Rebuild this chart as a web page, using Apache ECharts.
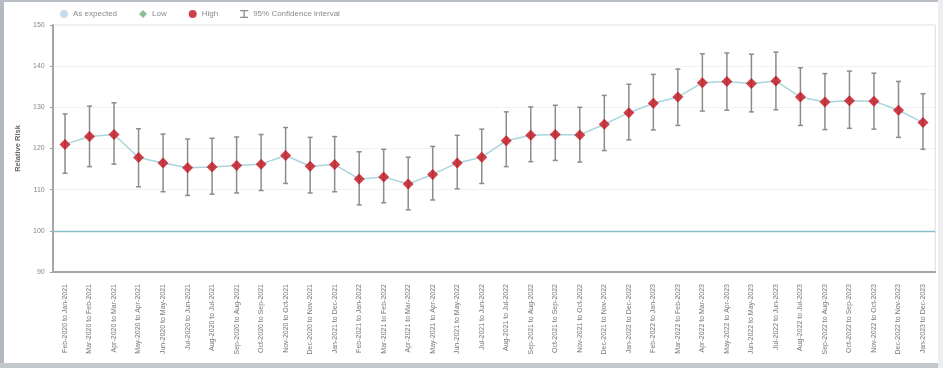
<!DOCTYPE html>
<html>
<head>
<meta charset="utf-8">
<script src="https://cdn.jsdelivr.net/npm/echarts@6/dist/echarts.min.js"></script>
<style>
  html, body { margin: 0; padding: 0; background: #ffffff; }
  #chart { width: 943px; height: 368px; }
</style>
</head>
<body>
<div id="chart"></div>
<script>
// Rolling 12-month periods
const periods = [
  'Feb-2020 to Jan-2021', 'Mar-2020 to Feb-2021', 'Apr-2020 to Mar-2021', 'May-2020 to Apr-2021',
  'Jun-2020 to May-2021', 'Jul-2020 to Jun-2021', 'Aug-2020 to Jul-2021', 'Sep-2020 to Aug-2021',
  'Oct-2020 to Sep-2021', 'Nov-2020 to Oct-2021', 'Dec-2020 to Nov-2021', 'Jan-2021 to Dec-2021',
  'Feb-2021 to Jan-2022', 'Mar-2021 to Feb-2022', 'Apr-2021 to Mar-2022', 'May-2021 to Apr-2022',
  'Jun-2021 to May-2022', 'Jul-2021 to Jun-2022', 'Aug-2021 to Jul-2022', 'Sep-2021 to Aug-2022',
  'Oct-2021 to Sep-2022', 'Nov-2021 to Oct-2022', 'Dec-2021 to Nov-2022', 'Jan-2022 to Dec-2022',
  'Feb-2022 to Jan-2023', 'Mar-2022 to Feb-2023', 'Apr-2022 to Mar-2023', 'May-2022 to Apr-2023',
  'Jun-2022 to May-2023', 'Jul-2022 to Jun-2023', 'Aug-2022 to Jul-2023', 'Sep-2022 to Aug-2023',
  'Oct-2022 to Sep-2023', 'Nov-2022 to Oct-2023', 'Dec-2022 to Nov-2023', 'Jan-2023 to Dec-2023'
];

// Relative risk per period
const relativeRisk = [
  121.0, 122.9, 123.4, 117.8, 116.5, 115.3, 115.5, 115.9, 116.2, 118.3, 115.7, 116.1,
  112.6, 113.1, 111.4, 113.7, 116.5, 117.9, 121.9, 123.2, 123.4, 123.3, 125.9, 128.7,
  131.0, 132.5, 136.0, 136.3, 135.8, 136.4, 132.5, 131.3, 131.6, 131.5, 129.3, 126.3
];

// 95% confidence interval bounds
const ciLower = [
  114.0, 115.6, 116.2, 110.7, 109.5, 108.6, 108.9, 109.2, 109.8, 111.5, 109.2, 109.5,
  106.3, 106.8, 105.1, 107.5, 110.2, 111.5, 115.6, 116.8, 117.1, 116.7, 119.5, 122.1,
  124.5, 125.6, 129.1, 129.3, 128.9, 129.4, 125.6, 124.6, 124.9, 124.7, 122.7, 119.8
];
const ciUpper = [
  128.4, 130.3, 131.1, 124.8, 123.5, 122.3, 122.5, 122.8, 123.4, 125.1, 122.7, 122.9,
  119.2, 119.8, 117.9, 120.5, 123.2, 124.7, 128.9, 130.1, 130.5, 130.0, 132.9, 135.6,
  138.0, 139.3, 143.0, 143.2, 142.9, 143.4, 139.6, 138.2, 138.8, 138.3, 136.3, 133.3
];

// Status of each period relative to the expected level
const status = new Array(periods.length).fill('High');

const yTicks = [90, 100, 110, 120, 130, 140, 150];
const expectedLevel = 100;

const pick = (s) => relativeRisk.map((v, i) => (status[i] === s ? v : null));

// Error-bar glyph used in the legend (filled so it shows at small size)
const errorBarIcon = 'path://M0,0h10v1.6h-10z M4.2,0h1.6v10h-1.6z M0,8.4h10v1.6h-10z';

const chart = echarts.init(document.getElementById('chart'), null, { renderer: 'canvas' });

const option = {
  backgroundColor: '#ffffff',
  animation: false,
  textStyle: { fontFamily: 'Liberation Sans, Arial, sans-serif' },
  legend: {
    top: 5,
    left: 55,
    itemWidth: 8,
    itemHeight: 8,
    itemGap: 22,
    textStyle: { fontSize: 8, color: '#8a8a8a' },
    data: [
      { name: 'As expected', icon: 'circle' },
      { name: 'Low', icon: 'diamond' },
      { name: 'High', icon: 'circle' },
      { name: '95% Confidence interval', icon: errorBarIcon }
    ]
  },
  grid: {
    left: 52.75,
    right: 7.75,
    top: 25,
    bottom: 96,
    show: true,
    borderColor: '#d9dde0',
    borderWidth: 1
  },
  xAxis: {
    type: 'category',
    data: periods,
    boundaryGap: true,
    axisLine: { onZero: false, lineStyle: { color: '#a6a6a6', width: 2 } },
    axisTick: { show: false },
    axisLabel: {
      interval: 0,
      rotate: 90,
      fontSize: 7,
      color: '#777',
      margin: 12
    },
    splitLine: { show: false }
  },
  yAxis: {
    type: 'value',
    min: yTicks[0],
    max: yTicks[yTicks.length - 1],
    interval: 10,
    name: 'Relative Risk',
    nameLocation: 'middle',
    nameGap: 30,
    nameTextStyle: { fontSize: 7.5, fontWeight: 'bold', color: '#666' },
    axisLine: { show: true, lineStyle: { color: '#a6a6a6', width: 2 } },
    axisTick: { show: true, length: 3, lineStyle: { color: '#a6a6a6' } },
    axisLabel: { fontSize: 7, color: '#8a8a8a', margin: 8 },
    splitLine: { show: true, lineStyle: { color: '#f1f3f3', width: 1 } }
  },
  series: [
    {
      name: '95% Confidence interval',
      type: 'custom',
      z: 2,
      itemStyle: { color: '#8c8c8c' },
      data: periods.map((p, i) => [i, ciLower[i], ciUpper[i]]),
      encode: { x: 0, y: [1, 2] },
      renderItem: function (params, api) {
        const i = api.value(0);
        const lo = api.coord([i, api.value(1)]);
        const hi = api.coord([i, api.value(2)]);
        const cap = 2.5;
        const style = { stroke: '#8c8c8c', lineWidth: 1.5, fill: null };
        return {
          type: 'group',
          children: [
            { type: 'line', shape: { x1: lo[0], y1: lo[1], x2: hi[0], y2: hi[1] }, style: style },
            { type: 'line', shape: { x1: hi[0] - cap, y1: hi[1], x2: hi[0] + cap, y2: hi[1] }, style: style },
            { type: 'line', shape: { x1: lo[0] - cap, y1: lo[1], x2: lo[0] + cap, y2: lo[1] }, style: style }
          ]
        };
      }
    },
    {
      name: 'Trend',
      type: 'line',
      z: 3,
      data: relativeRisk,
      showSymbol: false,
      symbol: 'none',
      lineStyle: { color: '#a9d5dd', width: 1.5 },
      // Reference line at the expected level
      markLine: {
        silent: true,
        symbol: ['none', 'none'],
        label: { show: false },
        data: [{ yAxis: expectedLevel, lineStyle: { color: '#86bfcc', width: 1.3, type: 'solid' } }]
      }
    },
    {
      name: 'As expected',
      type: 'scatter',
      z: 4,
      symbol: 'circle',
      symbolSize: 9,
      itemStyle: { color: '#b9d3e6' },
      data: pick('As expected')
    },
    {
      name: 'Low',
      type: 'scatter',
      z: 4,
      symbol: 'diamond',
      symbolSize: 11,
      itemStyle: { color: '#6fae7a' },
      data: pick('Low')
    },
    {
      name: 'High',
      type: 'scatter',
      z: 4,
      symbol: 'diamond',
      symbolSize: 11,
      itemStyle: { color: '#c4101c' },
      data: pick('High')
    }
  ],
  graphic: [
    { type: 'rect', left: 0, top: 0, shape: { width: 4, height: 368 }, style: { fill: '#b3b9bf' }, silent: true },
    { type: 'rect', left: 0, top: 0, shape: { width: 943, height: 2 }, style: { fill: '#b8bec4' }, silent: true },
    { type: 'rect', left: 0, top: 363, shape: { width: 943, height: 5 }, style: { fill: '#c3c8cd' }, silent: true },
    { type: 'rect', left: 938, top: 0, shape: { width: 5, height: 368 }, style: { fill: '#eceef0' }, silent: true }
  ]
};

chart.setOption(option);
</script>
</body>
</html>
